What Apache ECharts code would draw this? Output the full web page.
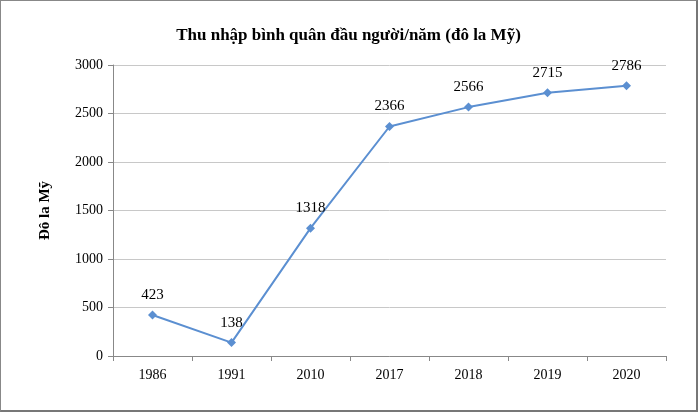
<!DOCTYPE html>
<html><head><meta charset="utf-8">
<script src="https://cdn.jsdelivr.net/npm/echarts@6/dist/echarts.min.js"></script>
<style>html,body{margin:0;padding:0;background:#fff}#c{width:698px;height:412px;box-sizing:border-box;border:1px solid #888;border-right:2px solid #777;border-bottom:2px solid #777}</style>
</head><body><div id="c"></div>
<script>
const categories = ['1986','1991','2010','2017','2018','2019','2020'];
const values = [423,138,1318,2366,2566,2715,2786];
const chart = echarts.init(document.getElementById('c'));
const font = 'Liberation Serif';
chart.setOption({
  animation:false,
  title:{text:'Thu nhập bình quân đầu người/năm (đô la Mỹ)',left:'center',top:21,
    textStyle:{fontFamily:font,fontSize:17,fontWeight:'bold',color:'#000'}},
  grid:{left:112,right:30,top:64,bottom:54},
  xAxis:{type:'category',data:categories,boundaryGap:true,
    axisLine:{lineStyle:{color:'#888'}},axisTick:{show:true,lineStyle:{color:'#888'}},
    axisLabel:{fontFamily:font,fontSize:14,color:'#000',margin:12}},
  yAxis:{type:'value',min:0,max:3000,interval:500,name:'Đô la Mỹ',nameLocation:'middle',nameGap:60,
    nameTextStyle:{fontFamily:font,fontSize:15,fontWeight:'bold',color:'#000'},
    axisLine:{show:true,lineStyle:{color:'#888'}},axisTick:{show:true,lineStyle:{color:'#888'}},
    axisLabel:{fontFamily:font,fontSize:14,color:'#000',margin:10,formatter:v=>String(v)},
    splitLine:{lineStyle:{color:'#c8c8c8'}}},
  series:[{type:'line',data:values,symbol:'diamond',symbolSize:9,
    lineStyle:{color:'#5b8fd1',width:2},itemStyle:{color:'#5b8fd1'},
    label:{show:true,position:'top',distance:8,fontFamily:font,fontSize:15,color:'#000'}}]
});
</script></body></html>
